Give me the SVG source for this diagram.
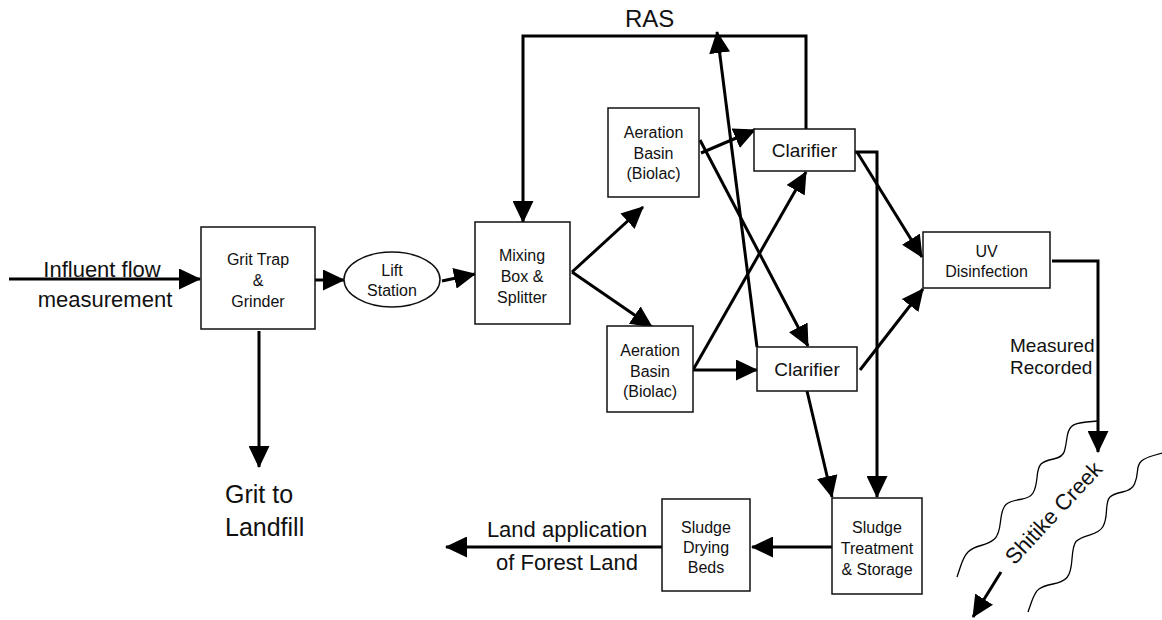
<svg xmlns="http://www.w3.org/2000/svg" width="1162" height="620" viewBox="0 0 1162 620">
  <defs>
    <marker id="arr" viewBox="0 0 22 21" markerWidth="22" markerHeight="21" refX="21" refY="10.5" orient="auto" markerUnits="userSpaceOnUse">
      <path d="M0,0 L22,10.5 L0,21 z" fill="#000"/>
    </marker>
    <style>
      .box { fill: #fff; stroke: #111; stroke-width: 1.5; }
      .t16 { font-family: "Liberation Sans", Arial, sans-serif; font-size: 16px; fill: #111; text-anchor: middle; }
      .t19 { font-family: "Liberation Sans", Arial, sans-serif; font-size: 19px; fill: #111; text-anchor: middle; }
      .lbl { font-family: "Liberation Sans", Arial, sans-serif; font-size: 22px; fill: #111; }
      .con { fill: none; stroke: #000; stroke-width: 3; marker-end: url(#arr); }
      .wave { fill: none; stroke: #000; stroke-width: 1.3; }
    </style>
  </defs>
  <rect width="1162" height="620" fill="#fff"/>

  <g id="connectors">
    <line class="con" x1="9" y1="279" x2="200" y2="279"/>
    <line class="con" x1="315" y1="280" x2="344" y2="280"/>
    <line class="con" x1="442" y1="281" x2="475" y2="274"/>
    <line class="con" x1="259" y1="331" x2="259" y2="467"/>
    <line class="con" x1="572" y1="272" x2="643" y2="207"/>
    <line class="con" x1="572" y1="272" x2="652" y2="327"/>
    <line class="con" x1="701" y1="153" x2="755" y2="130"/>
    <line class="con" x1="700" y1="140" x2="808" y2="346"/>
    <line class="con" x1="693" y1="370" x2="757" y2="370"/>
    <line class="con" x1="693" y1="370" x2="806" y2="172"/>
    <line class="con" x1="757" y1="347" x2="717" y2="32"/>
    <path class="con" d="M806,129 L806,36 L523,36 L523,222"/>
    <line class="con" x1="857" y1="152" x2="922" y2="257"/>
    <path class="con" d="M855,152 L877,152 L877,497"/>
    <line class="con" x1="860" y1="370" x2="923" y2="289"/>
    <line class="con" x1="807" y1="391" x2="832" y2="497"/>
    <path class="con" d="M1052,261 L1098,261 L1098,452"/>
    <line class="con" x1="832" y1="547" x2="752" y2="547"/>
    <line class="con" x1="662" y1="547" x2="446" y2="547"/>
    <line class="con" x1="1001" y1="572" x2="973" y2="617"/>
  </g>

  <g id="labels">
    <text class="lbl" x="102" y="277" text-anchor="middle">Influent flow</text>
    <text class="lbl" x="105" y="307" text-anchor="middle">measurement</text>
    <text class="lbl" x="225" y="503" style="font-size:25px">Grit to</text>
    <text class="lbl" x="225" y="536" style="font-size:25px">Landfill</text>
    <text class="lbl" x="625" y="27" style="font-size:24px">RAS</text>
    <text class="lbl" x="1010" y="352" style="font-size:19px">Measured</text>
    <text class="lbl" x="1010" y="374" style="font-size:19px">Recorded</text>
    <text class="lbl" x="567" y="537" text-anchor="middle">Land application</text>
    <text class="lbl" x="567" y="570" text-anchor="middle">of Forest Land</text>
  </g>

  <g id="grit-trap">
    <rect class="box" x="201" y="227" width="114" height="102"/>
    <text class="t16" x="258" y="265">Grit Trap</text>
    <text class="t16" x="258" y="286">&amp;</text>
    <text class="t16" x="258" y="307">Grinder</text>
  </g>

  <g id="lift-station">
    <ellipse class="box" cx="392" cy="279.5" rx="48" ry="27.5"/>
    <text class="t16" x="392" y="276">Lift</text>
    <text class="t16" x="392" y="296">Station</text>
  </g>

  <g id="mixing-box">
    <rect class="box" x="475" y="222" width="95" height="102"/>
    <text class="t16" x="522" y="261">Mixing</text>
    <text class="t16" x="522" y="282">Box &amp;</text>
    <text class="t16" x="522" y="303">Splitter</text>
  </g>

  <g id="aeration-1">
    <rect class="box" x="608" y="108" width="91" height="89"/>
    <text class="t16" x="653.5" y="138">Aeration</text>
    <text class="t16" x="653.5" y="159">Basin</text>
    <text class="t16" x="653.5" y="179">(Biolac)</text>
  </g>

  <g id="aeration-2">
    <rect class="box" x="607" y="326" width="86" height="86"/>
    <text class="t16" x="650" y="356">Aeration</text>
    <text class="t16" x="650" y="377">Basin</text>
    <text class="t16" x="650" y="397">(Biolac)</text>
  </g>

  <g id="clarifier-1">
    <rect class="box" x="754" y="129" width="101" height="42"/>
    <text class="t19" x="804.5" y="157">Clarifier</text>
  </g>

  <g id="clarifier-2">
    <rect class="box" x="757" y="347" width="100" height="44"/>
    <text class="t19" x="807" y="376">Clarifier</text>
  </g>

  <g id="uv-disinfection">
    <rect class="box" x="923" y="232" width="127" height="56"/>
    <text class="t16" x="986.5" y="257">UV</text>
    <text class="t16" x="986.5" y="277">Disinfection</text>
  </g>

  <g id="sludge-treatment">
    <rect class="box" x="832" y="498" width="90" height="96"/>
    <text class="t16" x="877" y="533">Sludge</text>
    <text class="t16" x="877" y="554">Treatment</text>
    <text class="t16" x="877" y="575">&amp; Storage</text>
  </g>

  <g id="sludge-drying">
    <rect class="box" x="662" y="499" width="88" height="92"/>
    <text class="t16" x="706" y="533">Sludge</text>
    <text class="t16" x="706" y="553">Drying</text>
    <text class="t16" x="706" y="573">Beds</text>
  </g>

  <g id="creek">
    <path class="wave" d="M957,577 L960.5,566.5 Q964,556 968,552 Q972,548 981,545.5 Q990,543 994.5,539 Q999,535 1000.5,521.5 Q1002,508 1006,504.5 Q1010,501 1020,499.5 Q1030,498 1033,493 Q1036,488 1037,477.5 Q1038,467 1041,464 Q1044,461 1053.5,459 Q1063,457 1064.5,451 Q1066,445 1067,437.5 Q1068,430 1071.5,426.5 Q1075,423 1086.5,422 L1098,421"/>
    <path class="wave" d="M1028,612 L1031.5,602 Q1035,592 1039,589 Q1043,586 1053,584 Q1063,582 1067,577.5 Q1071,573 1072,559 Q1073,545 1076,541.5 Q1079,538 1089.5,535 Q1100,532 1103,526.5 Q1106,521 1106.5,510.5 Q1107,500 1110,497 Q1113,494 1122.5,492 Q1132,490 1134.5,484 Q1137,478 1137.5,471 Q1138,464 1141.5,461 Q1145,458 1153.5,455.5 L1162,453"/>
    <text class="lbl" transform="translate(1059,518) rotate(-47)" text-anchor="middle">Shitike Creek</text>
  </g>
</svg>
